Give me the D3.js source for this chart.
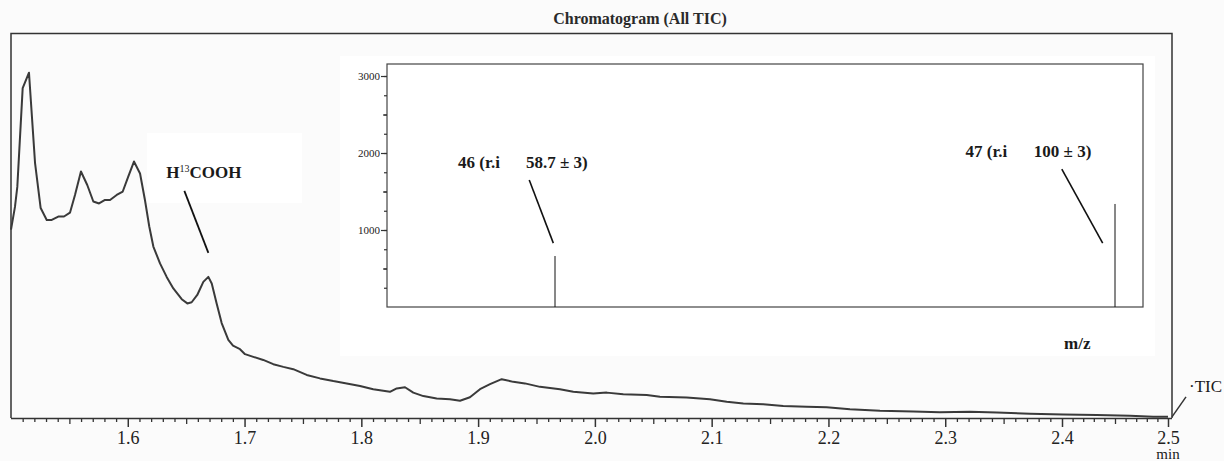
<!DOCTYPE html>
<html>
<head>
<meta charset="utf-8">
<script src="https://cdn.jsdelivr.net/npm/d3@7"></script>
<style>
  body { margin: 0; background: #fbfbfb; }
  svg { display: block; }
  text { font-family: "Liberation Serif", "Times New Roman", serif; fill: #1a1a1a; }
  .axis text { fill: #222; }
  .axis path, .axis line { stroke: #333; }
</style>
</head>
<body>
<div id="chart"></div>
<script>
// Data Setup
// chromatogram trace: retention time (min), relative TIC intensity (%)
var ticTime = [1.500, 1.5034, 1.5054, 1.5100, 1.5154, 1.5206, 1.5254, 1.5306, 1.5349, 1.5405,
    1.5454, 1.5505, 1.5548, 1.5599, 1.5653, 1.5705, 1.5754, 1.5805, 1.5848, 1.5905,
    1.5957, 1.6004, 1.6053, 1.6105, 1.6147, 1.6184, 1.6219, 1.6276, 1.6333, 1.6390,
    1.6462, 1.6510, 1.6547, 1.6595, 1.6647, 1.6690, 1.6719, 1.6761, 1.6804, 1.6861,
    1.6901, 1.6961, 1.7004, 1.7075, 1.7160, 1.7246, 1.7332, 1.7417, 1.7532, 1.7646,
    1.7760, 1.7875, 1.7989, 1.8102, 1.8245, 1.8303, 1.8374, 1.8445, 1.8531, 1.8645,
    1.8759, 1.8845, 1.8930, 1.9016, 1.9102, 1.9202, 1.9301, 1.9401, 1.9530, 1.9701,
    1.9815, 1.9986, 2.0101, 2.0243, 2.0444, 2.0557, 2.0786, 2.0985, 2.1129, 2.1271,
    2.1442, 2.1613, 2.1814, 2.1985, 2.2184, 2.2441, 2.2727, 2.2955, 2.3212, 2.3441,
    2.3726, 2.4012, 2.4327, 2.4641, 2.4861, 2.5000];
var ticValue = [49.0, 54.9, 60.1, 85.8, 89.8, 66.3, 54.6, 51.5, 51.5, 52.4,
    52.4, 53.4, 58.0, 64.1, 60.6, 56.3, 55.8, 56.7, 56.7, 58.0,
    58.9, 62.8, 66.7, 63.6, 56.7, 49.8, 44.6, 40.2, 36.7, 33.7,
    30.9, 29.8, 30.1, 32.0, 35.4, 36.7, 35.0, 29.8, 24.7, 20.3,
    18.8, 17.9, 16.6, 15.9, 15.1, 14.0, 13.3, 12.7, 11.2, 10.3,
    9.6, 9.0, 8.3, 7.5, 6.8, 7.7, 8.0, 6.6, 5.7, 5.1,
    4.9, 4.5, 5.4, 7.5, 8.8, 10.1, 9.4, 9.0, 8.1, 7.5,
    6.8, 6.4, 6.6, 6.2, 6.0, 5.5, 5.3, 4.9, 4.2, 3.8,
    3.6, 3.1, 2.9, 2.8, 2.3, 1.9, 1.7, 1.5, 1.6, 1.4,
    1.1, 0.9, 0.8, 0.6, 0.3, 0.3];
var timeTicks = [1.6, 1.7, 1.8, 1.9, 2.0, 2.1, 2.2, 2.3, 2.4, 2.5];

// mass spectrum (inset): m/z, abundance
var massMz = [46, 47];
var massAbund = [662, 1338];
var massLabels = ["46 (r.i", "47 (r.i"];
var massRi = ["58.7 \u00b1 3)", "100 \u00b1 3)"];
var abundTicks = [1000, 2000, 3000];

var peakLabel = "COOH";
var peakTime = 1.669;
var peakValue = 36.7;

var W = 1224, H = 461;
var plot = {left: 11, top: 33.5, right: 1172, bottom: 418};
var inset = {left: 387, top: 64, right: 1143, bottom: 307};

var svg = d3.select("#chart").append("svg")
    .attr("width", W)
    .attr("height", H);

// soft white boxes behind the pasted annotations
svg.append("rect").attr("x", 340).attr("y", 56).attr("width", 815).attr("height", 300).attr("fill", "#fff");
svg.append("rect").attr("x", 147).attr("y", 133).attr("width", 155).attr("height", 70).attr("fill", "#fff");

// Scales
var xScale = d3.scaleLinear()
    .domain([1.5, 2.4, 2.5])
    .range([plot.left, 1062, 1168]);
var yScale = d3.scaleLinear()
    .domain([0, 100])
    .range([plot.bottom, plot.top]);

// Title
svg.append("text")
    .attr("x", 640).attr("y", 24)
    .attr("text-anchor", "middle")
    .style("font-size", "16px")
    .style("font-weight", "bold")
    .style("fill", "#2a2a2a")
    .text("Chromatogram (All TIC)");

// Frame
svg.append("path")
    .attr("d", "M" + plot.left + "," + plot.bottom + "V" + plot.top + "H" + plot.right + "V" + plot.bottom)
    .attr("fill", "none")
    .attr("stroke", "#333")
    .attr("stroke-width", 1.5);

// x-axis: majors with labels, plus two levels of minor ticks
var axisG = svg.append("g").attr("transform", "translate(0," + plot.bottom + ")");
axisG.append("g").attr("class", "axis")
    .call(d3.axisBottom(xScale).tickValues(d3.range(1.51, 2.495, 0.01).filter(function (d) {
        return Math.abs(Math.round(d * 20) - d * 20) > 0.01; })).tickSize(4).tickSizeOuter(0).tickFormat(""))
    .call(function (g) { g.select(".domain").remove(); g.selectAll("line").attr("stroke-width", 1.3); });
axisG.append("g").attr("class", "axis")
    .call(d3.axisBottom(xScale).tickValues([1.55, 1.65, 1.75, 1.85, 1.95, 2.05, 2.15, 2.25, 2.35, 2.45])
        .tickSize(6).tickSizeOuter(0).tickFormat(""))
    .call(function (g) { g.select(".domain").remove(); g.selectAll("line").attr("stroke-width", 1.3); });
axisG.append("g").attr("class", "axis")
    .call(d3.axisBottom(xScale).tickValues(timeTicks).tickSize(9).tickPadding(4)
        .tickSizeOuter(0).tickFormat(d3.format(".1f")))
    .call(function (g) {
        g.select(".domain").attr("d", "M" + plot.left + ",0.5H" + plot.right).attr("stroke-width", 1.5);
        g.selectAll("line").attr("stroke-width", 1.5);
        g.selectAll("text").style("font-size", "18px");
    });

svg.append("text")
    .attr("x", xScale(2.5)).attr("y", 459)
    .attr("text-anchor", "middle")
    .style("font-size", "15px")
    .text("min");

// Chromatogram trace
var trace = ticTime.map(function (t, i) { return [t, ticValue[i]]; });
var linefunc = d3.line()
    .x(function (d) { return xScale(d[0]); })
    .y(function (d) { return yScale(d[1]); });
svg.append("path")
    .datum(trace)
    .attr("d", linefunc)
    .attr("fill", "none")
    .attr("stroke", "#3a3a3a")
    .attr("stroke-width", 2)
    .attr("stroke-linejoin", "round");

// TIC stub at the axis corner
svg.append("line")
    .attr("x1", plot.right).attr("y1", yScale(0.3))
    .attr("x2", plot.right + 14).attr("y2", yScale(0.3) - 20)
    .attr("stroke", "#333").attr("stroke-width", 1.5);
svg.append("text")
    .attr("x", plot.right + 17).attr("y", 392)
    .style("font-size", "17px")
    .text("\u00b7TIC");

// H13COOH annotation, anchored on its peak
var px = xScale(peakTime), py = yScale(peakValue);
svg.append("line")
    .attr("x1", px - 24).attr("y1", py - 86)
    .attr("x2", px).attr("y2", py - 24)
    .attr("stroke", "#111").attr("stroke-width", 1.8);
var hl = svg.append("text")
    .attr("x", px - 42).attr("y", py - 99)
    .style("font-size", "17px")
    .style("font-weight", "bold");
hl.append("tspan").text("H");
hl.append("tspan").attr("dy", -6).style("font-size", "10px").style("font-weight", "normal").text("13");
hl.append("tspan").attr("dy", 6).text(peakLabel);

// Inset: mass spectrum
var xIn = d3.scaleLinear().domain([45.7, 47.05]).range([inset.left, inset.right]);
var yIn = d3.scaleLinear().domain([0, 3156]).range([inset.bottom, inset.top]);

svg.append("rect")
    .attr("x", inset.left).attr("y", inset.top)
    .attr("width", inset.right - inset.left).attr("height", inset.bottom - inset.top)
    .attr("fill", "#fff").attr("stroke", "#444").attr("stroke-width", 1.2);

var yAxIn = svg.append("g").attr("transform", "translate(" + inset.left + ",0)");
yAxIn.append("g").attr("class", "axis")
    .call(d3.axisLeft(yIn).tickValues(d3.range(250, 3156, 250)).tickSize(3).tickSizeOuter(0).tickFormat(""))
    .call(function (g) { g.select(".domain").remove(); g.selectAll("line").attr("stroke-width", 1.2); });
yAxIn.append("g").attr("class", "axis")
    .call(d3.axisLeft(yIn).tickValues([500, 1500, 2500]).tickSize(4).tickSizeOuter(0).tickFormat(""))
    .call(function (g) { g.select(".domain").remove(); g.selectAll("line").attr("stroke-width", 1.2); });
yAxIn.append("g").attr("class", "axis")
    .call(d3.axisLeft(yIn).tickValues(abundTicks).tickSize(6).tickPadding(1).tickSizeOuter(0)
        .tickFormat(d3.format("d")))
    .call(function (g) {
        g.select(".domain").remove();
        g.selectAll("line").attr("stroke-width", 1.2);
        g.selectAll("text").style("font-size", "11px");
    });

svg.selectAll(".msbar")
    .data(massMz)
    .enter().append("line")
    .attr("class", "msbar")
    .attr("x1", function (d) { return xIn(d); })
    .attr("x2", function (d) { return xIn(d); })
    .attr("y1", yIn(0))
    .attr("y2", function (d, i) { return yIn(massAbund[i]); })
    .attr("stroke", "#111").attr("stroke-width", 1);

// leader lines and labels for the two ions
var leadEnd = [{mz: 45.997, ab: 830}, {mz: 46.978, ab: 830}];
var leadStart = [{mz: 45.954, ab: 1650}, {mz: 46.905, ab: 1790}];
svg.selectAll(".lead")
    .data(leadEnd)
    .enter().append("line")
    .attr("x1", function (d, i) { return xIn(leadStart[i].mz); })
    .attr("y1", function (d, i) { return yIn(leadStart[i].ab); })
    .attr("x2", function (d) { return xIn(d.mz); })
    .attr("y2", function (d) { return yIn(d.ab); })
    .attr("stroke", "#111").attr("stroke-width", 1.6);

var labelPos = [{mz: 45.827, ri: 45.948, ab: 1810}, {mz: 46.733, ri: 46.855, ab: 1950}];
labelPos.forEach(function (p, i) {
    svg.append("text")
        .attr("x", xIn(p.mz)).attr("y", yIn(p.ab))
        .style("font-size", "17px").style("font-weight", "bold")
        .text(massLabels[i]);
    svg.append("text")
        .attr("x", xIn(p.ri)).attr("y", yIn(p.ab))
        .style("font-size", "17px").style("font-weight", "bold")
        .text(massRi[i]);
});

svg.append("text")
    .attr("x", 1064).attr("y", 349)
    .style("font-size", "17px").style("font-weight", "bold")
    .text("m/z");
</script>
</body>
</html>
